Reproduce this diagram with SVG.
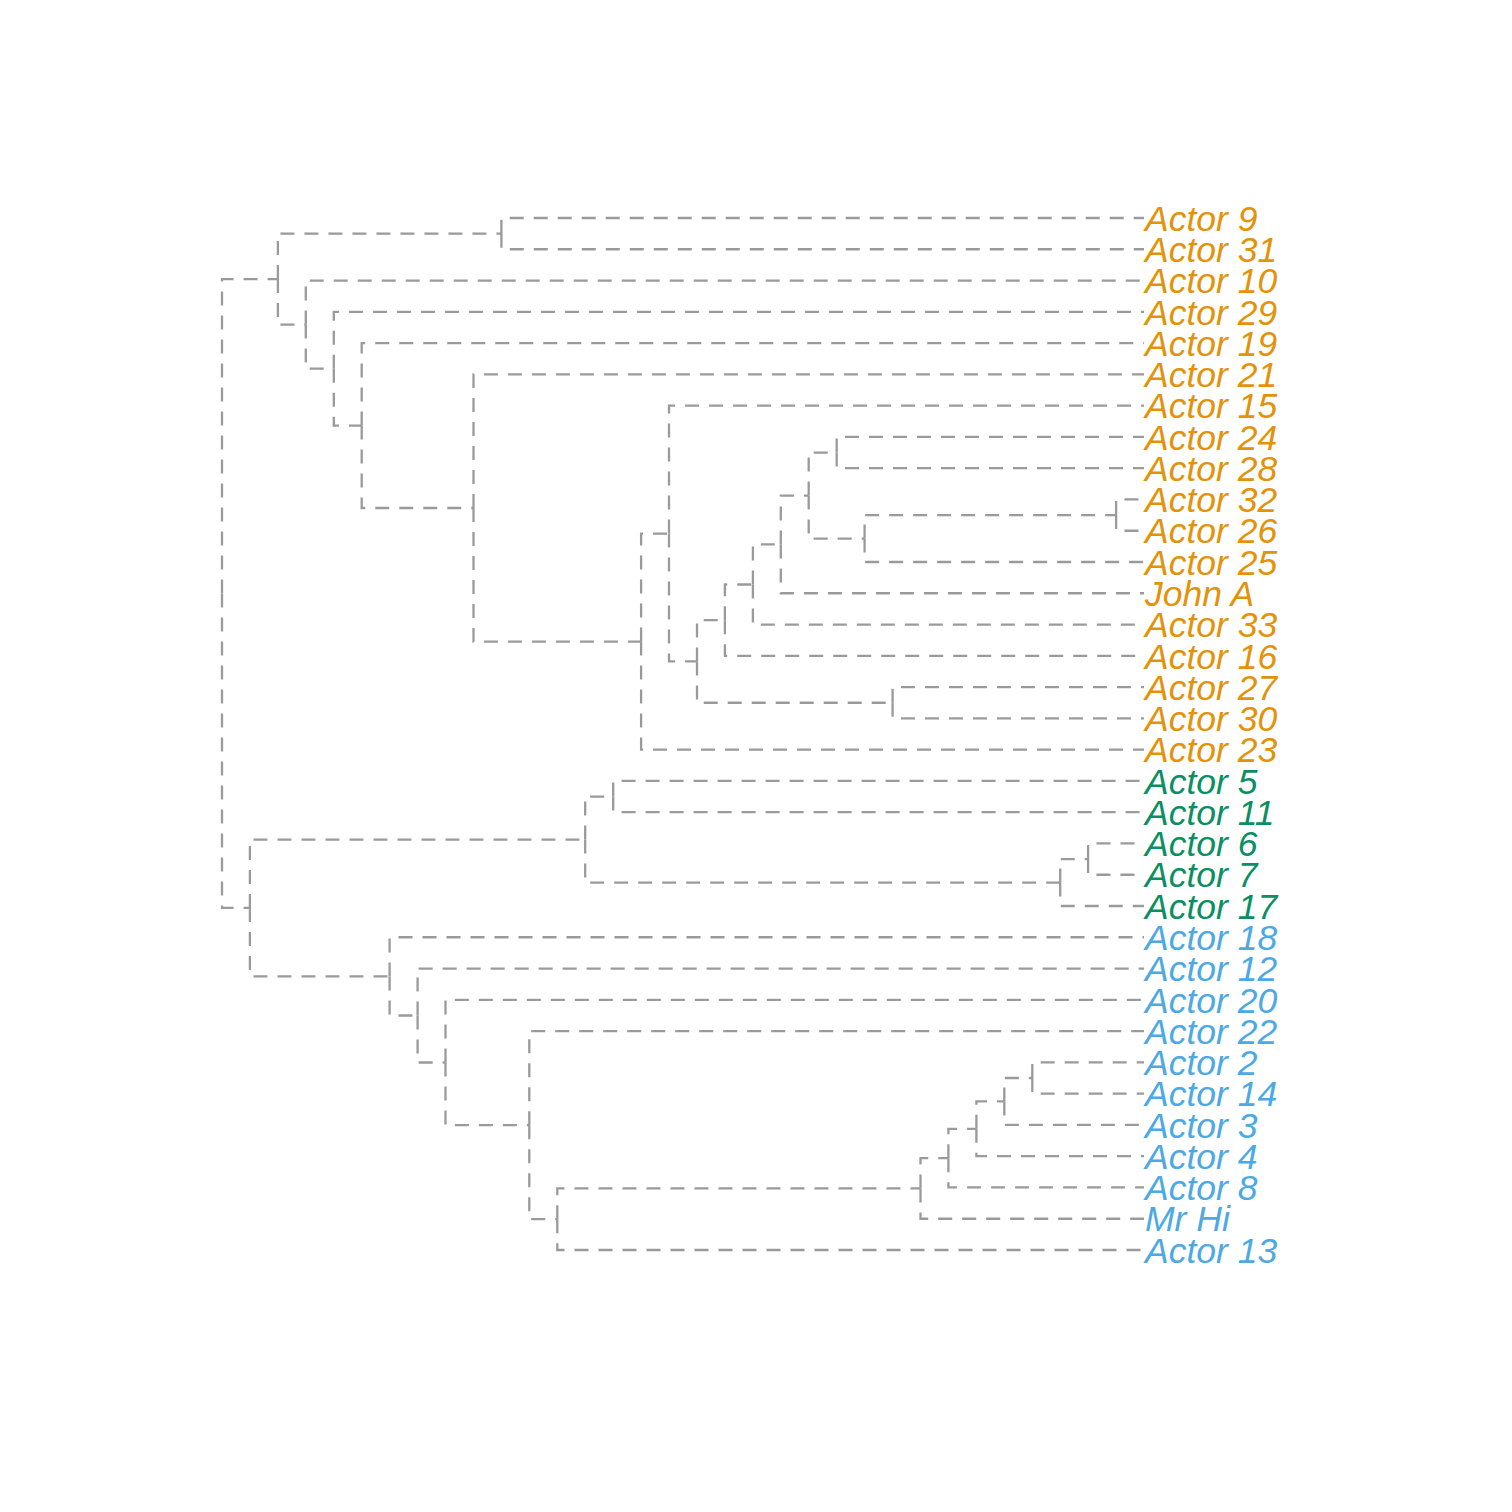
<svg xmlns="http://www.w3.org/2000/svg" width="1512" height="1512" viewBox="0 0 1512 1512">
<style>
.e{fill:none;stroke:#9a9a9a;stroke-width:2.3;stroke-dasharray:14 10}
text{font-family:"Liberation Sans",Arial,sans-serif;font-style:italic;font-size:35.5px}
.o{fill:#E3920A}.g{fill:#0A8F62}.b{fill:#4CA9E4}
</style>
<rect width="1512" height="1512" fill="#ffffff"/>
<g id="connectors">
<path class="e" d="M222,593.55V279.12H277.9"/>
<path class="e" d="M222,593.55V907.97H249.9"/>
<path class="e" d="M277.9,279.12V233.64H501.4"/>
<path class="e" d="M277.9,279.12V324.61H305.8"/>
<path class="e" d="M501.4,233.64V218H1144"/>
<path class="e" d="M501.4,233.64V249.27H1144"/>
<path class="e" d="M305.8,324.61V280.55H1144"/>
<path class="e" d="M305.8,324.61V368.68H333.8"/>
<path class="e" d="M333.8,368.68V311.82H1144"/>
<path class="e" d="M333.8,368.68V425.53H361.7"/>
<path class="e" d="M361.7,425.53V343.09H1144"/>
<path class="e" d="M361.7,425.53V507.98H473.5"/>
<path class="e" d="M473.5,507.98V374.36H1144"/>
<path class="e" d="M473.5,507.98V641.59H641.1"/>
<path class="e" d="M641.1,641.59V533.54H669"/>
<path class="e" d="M641.1,641.59V749.64H1144"/>
<path class="e" d="M669,533.54V405.64H1144"/>
<path class="e" d="M669,533.54V661.44H697"/>
<path class="e" d="M697,661.44V620.15H724.9"/>
<path class="e" d="M697,661.44V702.73H892.6"/>
<path class="e" d="M724.9,620.15V584.48H752.9"/>
<path class="e" d="M724.9,620.15V655.82H1144"/>
<path class="e" d="M752.9,584.48V544.41H780.8"/>
<path class="e" d="M752.9,584.48V624.55H1144"/>
<path class="e" d="M780.8,544.41V495.55H808.7"/>
<path class="e" d="M780.8,544.41V593.27H1144"/>
<path class="e" d="M808.7,495.55V452.55H836.7"/>
<path class="e" d="M808.7,495.55V538.55H864.6"/>
<path class="e" d="M836.7,452.55V436.91H1144"/>
<path class="e" d="M836.7,452.55V468.18H1144"/>
<path class="e" d="M864.6,538.55V515.09H1116.1"/>
<path class="e" d="M864.6,538.55V562H1144"/>
<path class="e" d="M1116.1,515.09V499.45H1144"/>
<path class="e" d="M1116.1,515.09V530.73H1144"/>
<path class="e" d="M892.6,702.73V687.09H1144"/>
<path class="e" d="M892.6,702.73V718.36H1144"/>
<path class="e" d="M249.9,907.97V839.55H585.2"/>
<path class="e" d="M249.9,907.97V976.39H389.6"/>
<path class="e" d="M585.2,839.55V796.55H613.2"/>
<path class="e" d="M585.2,839.55V882.55H1060.2"/>
<path class="e" d="M613.2,796.55V780.91H1144"/>
<path class="e" d="M613.2,796.55V812.18H1144"/>
<path class="e" d="M1060.2,882.55V859.09H1088.1"/>
<path class="e" d="M1060.2,882.55V906H1144"/>
<path class="e" d="M1088.1,859.09V843.45H1144"/>
<path class="e" d="M1088.1,859.09V874.73H1144"/>
<path class="e" d="M389.6,976.39V937.27H1144"/>
<path class="e" d="M389.6,976.39V1015.52H417.6"/>
<path class="e" d="M417.6,1015.52V968.55H1144"/>
<path class="e" d="M417.6,1015.52V1062.49H445.5"/>
<path class="e" d="M445.5,1062.49V999.82H1144"/>
<path class="e" d="M445.5,1062.49V1125.15H529.3"/>
<path class="e" d="M529.3,1125.15V1031.09H1144"/>
<path class="e" d="M529.3,1125.15V1219.22H557.3"/>
<path class="e" d="M557.3,1219.22V1188.43H920.5"/>
<path class="e" d="M557.3,1219.22V1250H1144"/>
<path class="e" d="M920.5,1188.43V1158.14H948.4"/>
<path class="e" d="M920.5,1188.43V1218.73H1144"/>
<path class="e" d="M948.4,1158.14V1128.82H976.4"/>
<path class="e" d="M948.4,1158.14V1187.45H1144"/>
<path class="e" d="M976.4,1128.82V1101.45H1004.3"/>
<path class="e" d="M976.4,1128.82V1156.18H1144"/>
<path class="e" d="M1004.3,1101.45V1078H1032.3"/>
<path class="e" d="M1004.3,1101.45V1124.91H1144"/>
<path class="e" d="M1032.3,1078V1062.36H1144"/>
<path class="e" d="M1032.3,1078V1093.64H1144"/>
</g>
<g id="actor9"><text class="o" x="1145" y="230.7">Actor 9</text></g>
<g id="actor31"><text class="o" x="1145" y="262">Actor 31</text></g>
<g id="actor10"><text class="o" x="1145" y="293.2">Actor 10</text></g>
<g id="actor29"><text class="o" x="1145" y="324.5">Actor 29</text></g>
<g id="actor19"><text class="o" x="1145" y="355.8">Actor 19</text></g>
<g id="actor21"><text class="o" x="1145" y="387.1">Actor 21</text></g>
<g id="actor15"><text class="o" x="1145" y="418.3">Actor 15</text></g>
<g id="actor24"><text class="o" x="1145" y="449.6">Actor 24</text></g>
<g id="actor28"><text class="o" x="1145" y="480.9">Actor 28</text></g>
<g id="actor32"><text class="o" x="1145" y="512.2">Actor 32</text></g>
<g id="actor26"><text class="o" x="1145" y="543.4">Actor 26</text></g>
<g id="actor25"><text class="o" x="1145" y="574.7">Actor 25</text></g>
<g id="johnA"><text class="o" x="1145" y="606">John A</text></g>
<g id="actor33"><text class="o" x="1145" y="637.2">Actor 33</text></g>
<g id="actor16"><text class="o" x="1145" y="668.5">Actor 16</text></g>
<g id="actor27"><text class="o" x="1145" y="699.8">Actor 27</text></g>
<g id="actor30"><text class="o" x="1145" y="731.1">Actor 30</text></g>
<g id="actor23"><text class="o" x="1145" y="762.3">Actor 23</text></g>
<g id="actor5"><text class="g" x="1145" y="793.6">Actor 5</text></g>
<g id="actor11"><text class="g" x="1145" y="824.9">Actor 11</text></g>
<g id="actor6"><text class="g" x="1145" y="856.2">Actor 6</text></g>
<g id="actor7"><text class="g" x="1145" y="887.4">Actor 7</text></g>
<g id="actor17"><text class="g" x="1145" y="918.7">Actor 17</text></g>
<g id="actor18"><text class="b" x="1145" y="950">Actor 18</text></g>
<g id="actor12"><text class="b" x="1145" y="981.2">Actor 12</text></g>
<g id="actor20"><text class="b" x="1145" y="1012.5">Actor 20</text></g>
<g id="actor22"><text class="b" x="1145" y="1043.8">Actor 22</text></g>
<g id="actor2"><text class="b" x="1145" y="1075.1">Actor 2</text></g>
<g id="actor14"><text class="b" x="1145" y="1106.3">Actor 14</text></g>
<g id="actor3"><text class="b" x="1145" y="1137.6">Actor 3</text></g>
<g id="actor4"><text class="b" x="1145" y="1168.9">Actor 4</text></g>
<g id="actor8"><text class="b" x="1145" y="1200.2">Actor 8</text></g>
<g id="mrHi"><text class="b" x="1145" y="1231.4">Mr Hi</text></g>
<g id="actor13"><text class="b" x="1145" y="1262.7">Actor 13</text></g>
</svg>
